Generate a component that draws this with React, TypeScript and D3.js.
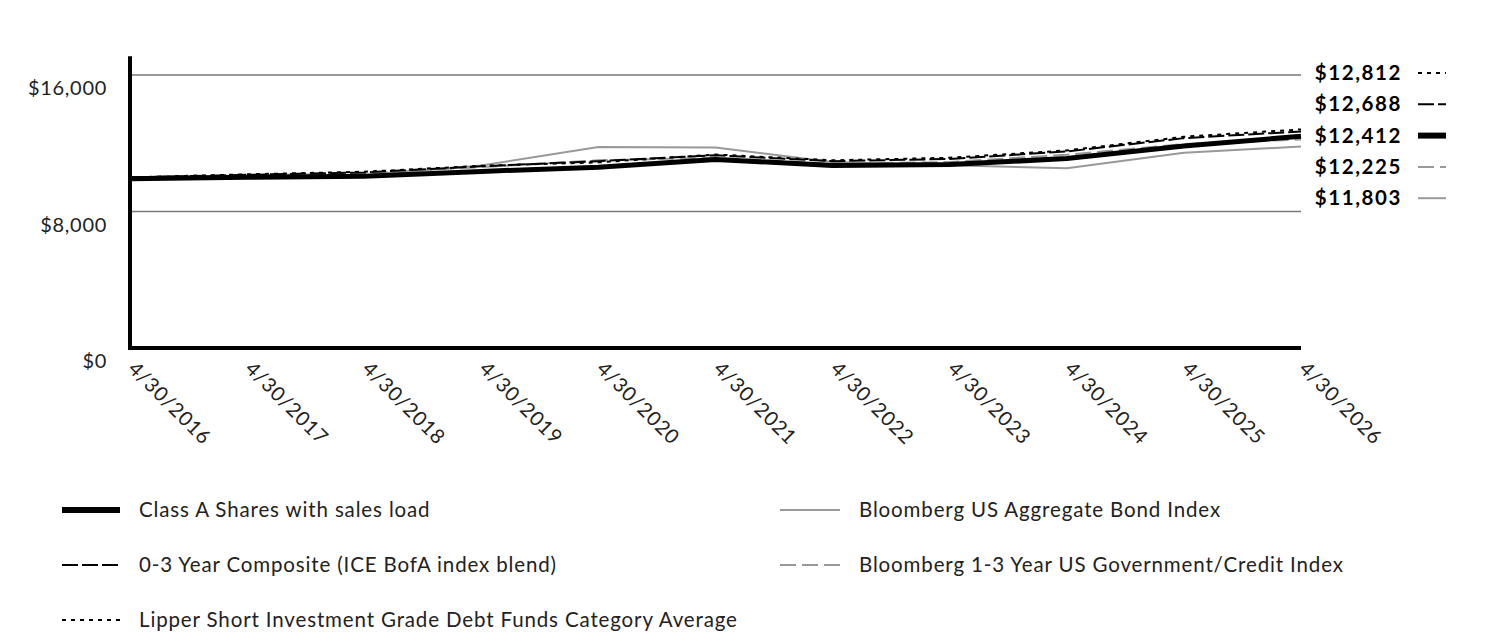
import { useEffect } from "react";
import * as d3 from "d3";

const dates = [
  "4/30/2016", "4/30/2017", "4/30/2018", "4/30/2019", "4/30/2020", "4/30/2021",
  "4/30/2022", "4/30/2023", "4/30/2024", "4/30/2025", "4/30/2026",
];

const classA = [9925, 10010, 10070, 10350, 10600, 11050, 10700, 10760, 11100, 11840, 12412];
const composite = [10000, 10150, 10290, 10650, 10950, 11300, 10950, 11080, 11520, 12300, 12688];
const lipper = [10000, 10180, 10330, 10680, 10880, 11340, 11000, 11150, 11580, 12380, 12812];
const aggregate = [10000, 10080, 10120, 10700, 11780, 11750, 10900, 10710, 10530, 11450, 11803];
const govCredit = [10000, 10110, 10230, 10600, 11000, 11150, 10800, 10900, 11330, 11950, 12225];

const yTicks = [0, 8000, 16000];

interface Series {
  name: string;
  values: number[];
  color: string;
  width: number;
  dash: string | null;
}

const series: Series[] = [
  { name: "Class A Shares with sales load", values: classA, color: "#000", width: 5, dash: null },
  { name: "0-3 Year Composite (ICE BofA index blend)", values: composite, color: "#000", width: 2, dash: "16,4" },
  { name: "Lipper Short Investment Grade Debt Funds Category Average", values: lipper, color: "#000", width: 2, dash: "4,5" },
  { name: "Bloomberg US Aggregate Bond Index", values: aggregate, color: "#999", width: 2, dash: null },
  { name: "Bloomberg 1-3 Year US Government/Credit Index", values: govCredit, color: "#999", width: 2, dash: "16,6" },
];

// draw order: gray indexes underneath, fund, then black dashed/dotted on top
const drawOrder = [3, 4, 0, 1, 2];

const W = 1512;
const H = 636;
const left = 130;
const right = 1301;
const bottom = 348;
const FONT = "Lato, 'Open Sans', sans-serif";

export default function App() {
  useEffect(() => {
    document.body.style.margin = "0";
  }, []);

  const x = d3.scalePoint<string>().domain(dates).range([left, right]);
  const y = d3.scaleLinear().domain([0, 16000]).range([bottom, 75]);
  const top = y(17100);

  const line = d3
    .line<number>()
    .x((_, i) => x(dates[i])!)
    .y((d) => y(d));

  // end-of-line value labels, stacked by value
  const endLabels = series
    .map((s) => ({ s, v: s.values[s.values.length - 1] }))
    .sort((a, b) => b.v - a.v);

  const legendLeft = [0, 1, 2];
  const legendRight = [3, 4];

  const sample = (s: Series, x0: number, x1: number, yy: number) => (
    <line
      x1={x0}
      x2={x1}
      y1={yy}
      y2={yy}
      stroke={s.color}
      strokeWidth={s.width === 5 ? 6 : 2}
      strokeDasharray={s.dash ?? undefined}
    />
  );

  return (
    <svg width={W} height={H} style={{ display: "block", background: "#fff" }} fontFamily={FONT}>
      {/* gridlines */}
      {yTicks
        .filter((t) => t > 0)
        .map((t) => (
          <line key={t} x1={left} x2={right} y1={y(t)} y2={y(t)} stroke="#777" strokeWidth={1.5} />
        ))}

      {/* y tick labels */}
      {yTicks.map((t) => (
        <text key={t} x={107} y={y(t) + 20} textAnchor="end" fontSize={20} letterSpacing={0.7} fill="#222">
          {"$" + d3.format(",")(t)}
        </text>
      ))}

      {/* series */}
      {drawOrder.map((i) => {
        const s = series[i];
        return (
          <path
            key={s.name}
            d={line(s.values) ?? ""}
            fill="none"
            stroke={s.color}
            strokeWidth={s.width}
            strokeDasharray={s.dash ?? undefined}
            strokeLinejoin="round"
          />
        );
      })}

      {/* axes */}
      <line x1={left} x2={left} y1={top} y2={bottom + 2} stroke="#000" strokeWidth={4} />
      <line x1={left - 2} x2={right} y1={bottom} y2={bottom} stroke="#000" strokeWidth={4} />

      {/* x tick labels */}
      {dates.map((d) => (
        <text
          key={d}
          transform={`translate(${x(d)! - 3},${bottom + 22}) rotate(45)`}
          fontSize={20}
          letterSpacing={0.9}
          fill="#222"
        >
          {d}
        </text>
      ))}

      {/* end values */}
      {endLabels.map(({ s, v }, i) => {
        const yy = 73 + i * 31.3;
        return (
          <g key={s.name}>
            <text x={1402} y={yy + 7} textAnchor="end" fontSize={20.5} letterSpacing={1.6} fontWeight="bold" fill="#000">
              {"$" + d3.format(",")(v)}
            </text>
            {sample(s, 1418, 1446, yy)}
          </g>
        );
      })}

      {/* legend */}
      {legendLeft.map((i, r) => {
        const s = series[i];
        const yy = 510 + r * 55;
        return (
          <g key={s.name}>
            {sample(s, 62, 120, yy)}
            <text x={139} y={yy + 7} fontSize={20.5} letterSpacing={0.86} fill="#222">
              {s.name}
            </text>
          </g>
        );
      })}
      {legendRight.map((i, r) => {
        const s = series[i];
        const yy = 510 + r * 55;
        return (
          <g key={s.name}>
            {sample(s, 780, 840, yy)}
            <text x={859} y={yy + 7} fontSize={20.5} letterSpacing={0.86} fill="#222">
              {s.name}
            </text>
          </g>
        );
      })}
    </svg>
  );
}
